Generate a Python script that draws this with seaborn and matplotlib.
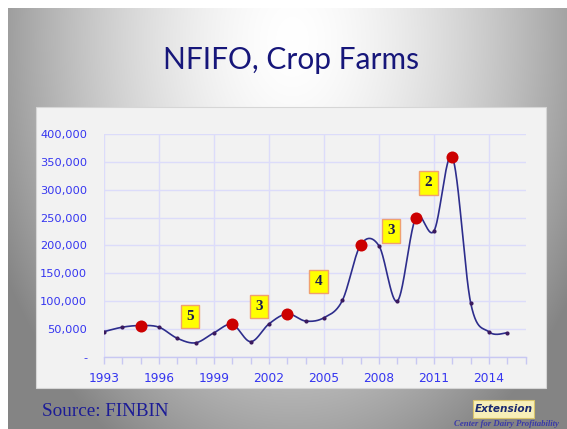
import numpy as np
import pandas as pd
import matplotlib
matplotlib.use("Agg")
import matplotlib.pyplot as plt
from matplotlib.patches import Rectangle, FancyBboxPatch
from matplotlib.ticker import FuncFormatter, MultipleLocator
import seaborn as sns

# ---------------- data ----------------
years = [1993, 1994, 1995, 1996, 1997, 1998, 1999, 2000, 2001, 2002, 2003,
         2004, 2005, 2006, 2007, 2008, 2009, 2010, 2011, 2012, 2013, 2014, 2015]
nfifo = [45000, 53000, 56000, 53000, 33000, 25000, 43000, 58000, 27000, 59000, 77000,
         64000, 70000, 101000, 201000, 199000, 100000, 249000, 226000, 358000, 96500, 44500, 43000]
highlight_years = [1995, 2000, 2003, 2007, 2010, 2012]
rank_labels = ["5", "3", "4", "3", "2"]
rank_x = [1997.7, 2001.45, 2004.7, 2008.67, 2010.7]
rank_y = [72000, 90000, 135000, 226000, 312600]
xticks = [1993, 1996, 1999, 2002, 2005, 2008, 2011, 2014]
yticks = [0, 50000, 100000, 150000, 200000, 250000, 300000, 350000, 400000]
title = "NFIFO, Crop Farms"
source = "Source: FINBIN"

df = pd.DataFrame({"year": years, "value": nfifo})
df_hi = df[df["year"].isin(highlight_years)]

# Excel-style smoothed line (Catmull-Rom / cubic Bezier)
def smooth(xs, ys, n=40):
    xs = np.asarray(xs, float); ys = np.asarray(ys, float)
    P = np.column_stack([xs, ys])
    out = []
    for i in range(len(P) - 1):
        p0 = P[i - 1] if i > 0 else P[i]
        p1 = P[i]; p2 = P[i + 1]
        p3 = P[i + 2] if i + 2 < len(P) else P[i + 1]
        c1 = p1 + (p2 - p0) / 6.0
        c2 = p2 - (p3 - p1) / 6.0
        t = np.linspace(0, 1, n, endpoint=(i == len(P) - 2))[:, None]
        seg = (1 - t) ** 3 * p1 + 3 * (1 - t) ** 2 * t * c1 + 3 * (1 - t) * t ** 2 * c2 + t ** 3 * p2
        out.append(seg)
    arr = np.vstack(out)
    return pd.DataFrame({"year": arr[:, 0], "value": arr[:, 1]})

curve = smooth(years, nfifo)

# ---------------- figure ----------------
sns.set_style("white")
W, H = 567, 429
fig = plt.figure(figsize=(W / 100, H / 100), dpi=100)
fig.patch.set_facecolor("white")

# slide gradient background
bg = fig.add_axes([0, 0, 1, 1], zorder=-10)
yy, xx = np.mgrid[0:H, 0:W]
r = np.sqrt(((xx - 292) / 300.0) ** 2 + ((yy - 40) / 430.0) ** 2)
v = np.clip(255 - 105 * r ** 1.6, 132, 255) / 255.0
v[:8, :] = 1.0
v[:, :8] = 1.0
bg.imshow(np.dstack([v, v, v]), extent=[0, 1, 0, 1], aspect="auto", interpolation="bilinear")
bg.set_axis_off()

# chart panel
fig.patches.append(Rectangle((36 / W, 1 - 388 / H), 510 / W, 281 / H, transform=fig.transFigure,
                             facecolor="#f2f2f2", edgecolor="#d6d6d6", linewidth=0.8, zorder=-5))

ax = fig.add_axes([104 / W, 1 - 356.7 / H, (525.7 - 104) / W, (356.7 - 134) / H])
ax.set_facecolor("none")

sns.lineplot(data=curve, x="year", y="value", ax=ax, color="#2d2d8c", linewidth=1.2,
             sort=False, estimator=None, zorder=3)
sns.scatterplot(data=df, x="year", y="value", ax=ax, color="#3b1a5e", s=9, linewidth=0, zorder=4)
sns.scatterplot(data=df_hi, x="year", y="value", ax=ax, color="#cc0000", s=75, linewidth=0, zorder=5)

for lab, lx, ly in zip(rank_labels, rank_x, rank_y):
    ax.text(lx, ly, lab, ha="center", va="center", fontsize=11, fontweight="bold",
            family="Liberation Serif", color="#1a1a50", zorder=6,
            bbox=dict(boxstyle="square,pad=0.35", facecolor="#ffff00", edgecolor="#f0a070", linewidth=1.0))

ax.set_xlim(1993, 2016)
ax.set_ylim(0, 400000)
ax.set_xticks(xticks)
ax.xaxis.set_minor_locator(MultipleLocator(1))
ax.set_yticks(yticks)
ax.yaxis.set_major_formatter(FuncFormatter(lambda v, p: "-" if v == 0 else f"{int(v):,}"))
ax.grid(True, which="major", color="#dcdcfa", linewidth=1.0, zorder=0)
ax.set_axisbelow(True)
for s in ["top", "right", "left"]:
    ax.spines[s].set_visible(False)
ax.spines["bottom"].set_color("#c8c8f2")
ax.spines["bottom"].set_linewidth(1.0)
ax.tick_params(axis="x", which="both", direction="out", length=5, color="#c8c8f2", width=1.0,
               labelsize=8.8, labelcolor="#3535f0", pad=6, bottom=True)
ax.tick_params(axis="y", length=0, labelsize=8.2, labelcolor="#3535f0", pad=12)
ax.set_xlabel("")
ax.set_ylabel("")

# title and footer
fig.text(291 / W, 1 - 69.3 / H, title, ha="center", va="baseline", fontsize=21.5,
         family="Lato", color="#16167a")
fig.text(42 / W, 1 - 416 / H, source, ha="left", va="baseline", fontsize=13.8,
         family="Liberation Serif", color="#1c1c96")

fig.patches.append(FancyBboxPatch((473 / W, 1 - 417.5 / H), 61 / W, 17.5 / H, boxstyle="square,pad=0",
                                  transform=fig.transFigure, facecolor="#f7efb8", edgecolor="#d9c46a",
                                  linewidth=0.8, zorder=2))
fig.text(503.5 / W, 1 - 408.7 / H, "Extension", ha="center", va="center", fontsize=7.6,
         fontweight="bold", fontstyle="italic", family="DejaVu Sans", color="#1a2a70", zorder=3)
fig.text(506 / W, 1 - 426 / H, "Center for Dairy Profitability", ha="center", va="baseline",
         fontsize=6.3, fontweight="bold", fontstyle="italic", family="Liberation Serif", color="#3a3aa8")

fig.savefig("out.png", dpi=100)
